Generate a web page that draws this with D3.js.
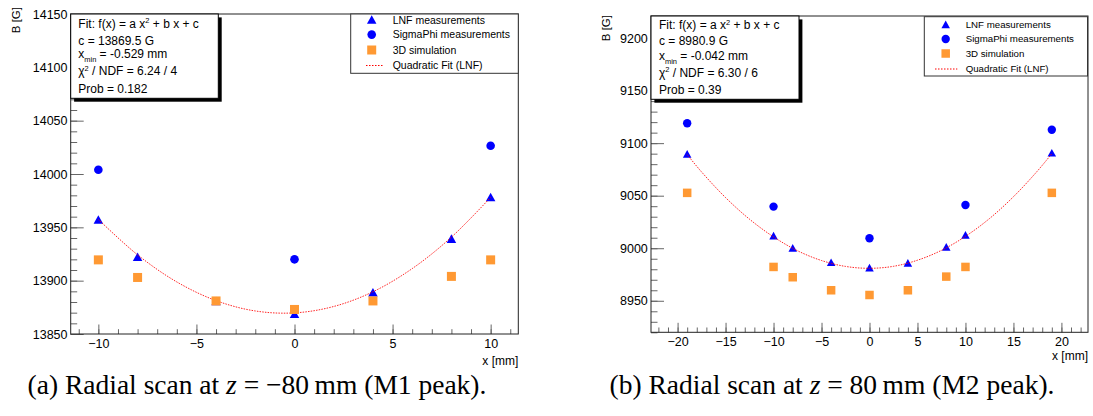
<!DOCTYPE html>
<html><head><meta charset="utf-8">
<script src="https://cdn.jsdelivr.net/npm/d3@7"></script>
<style>body{margin:0;background:#fff}svg{display:block}</style>
</head><body><svg id="c" width="1093" height="416"></svg>
<script>
// ---------- data: panel (a) z = -80 mm ----------
const aX = [-10, -8, -4, 0, 4, 8, 10];
const aLNF = [13957, 13922, 13880.5, 13868.5, 13888.7, 13939, 13978];
const aSigmaX = [-10, 0, 10];
const aSigma = [14004, 13920, 14026.5];
const aSim = [13919.5, 13903, 13881, 13873, 13881, 13904, 13919.5];
const aFitX = [-10, -8, -6, -4, -2, 0, 2, 4, 6, 8, 10];
const aFitY = [13957.4, 13924.2, 13898.8, 13881.3, 13871.6, 13869.8, 13875.8, 13889.6, 13911.3, 13940.8, 13978.1];
const aXTicks = [-10, -5, 0, 5, 10];
const aYTicks = [13850, 13900, 13950, 14000, 14050, 14100, 14150];
const aStats = ["Fit: f(x) = a x^{2} + b x + c", "c = 13869.5 G", "x_{min} = -0.529 mm", "χ^{2} / NDF = 6.24 / 4", "Prob = 0.182"];

// ---------- data: panel (b) z = +80 mm ----------
const bX = [-19, -10, -8, -4, 0, 4, 8, 10, 19];
const bLNF = [9089.5, 9011.7, 9000, 8986.3, 8981.2, 8985.7, 9001, 9012.4, 9090.5];
const bSigmaX = [-19, -10, 0, 10, 19];
const bSigma = [9119, 9039.6, 9009.5, 9041.2, 9112.7];
const bSim = [9052.7, 8982.2, 8972.4, 8960, 8955.5, 8960, 8973, 8982.2, 9052.7];
const bFitX = [-19, -17.5, -15, -12.5, -10, -7.5, -5, -2.5, 0, 2.5, 5, 7.5, 10, 12.5, 15, 17.5, 19];
const bFitY = [9089.1, 9072.6, 9048.2, 9027.6, 9010.8, 8997.6, 8988.3, 8982.7, 8980.9, 8982.8, 8988.6, 8998.0, 9011.3, 9028.2, 9049.0, 9073.5, 9090.0];
const bXTicks = [-20, -15, -10, -5, 0, 5, 10, 15, 20];
const bYTicks = [8950, 9000, 9050, 9100, 9150, 9200];
const bStats = ["Fit: f(x) = a x^{2} + b x + c", "c = 8980.9 G", "x_{min} = -0.042 mm", "χ^{2} / NDF = 6.30 / 6", "Prob = 0.39"];

const legendLabels = ["LNF measurements", "SigmaPhi measurements", "3D simulation", "Quadratic Fit (LNF)"];
const captions = [
  [["(a) Radial scan at "], ["z", "i"], [" = −80\u2009mm (M1 peak)."]],
  [["(b) Radial scan at "], ["z", "i"], [" = 80\u2009mm (M2 peak)."]]
];

const BLUE = "#0000ff", ORANGE = "#ff9933", RED = "#ff0000";
const SANS = "'Liberation Sans', Arial, Helvetica, sans-serif";
const svg = d3.select("#c");

function triPath(cx, cy, s) {
  const h = s * 0.9;
  return `M${cx},${cy - h * 0.55}L${cx + s / 2},${cy + h * 0.45}L${cx - s / 2},${cy + h * 0.45}Z`;
}

function richText(sel, str, size) {
  const parts = str.split(/(\^\{[^}]*\}|_\{[^}]*\})/).filter(p => p.length);
  let shift = 0;
  parts.forEach(p => {
    let t = p, dy = 0, fs = size;
    if (p.startsWith("^{")) { t = p.slice(2, -1); dy = -size * 0.38; fs = size * 0.62; }
    else if (p.startsWith("_{")) { t = p.slice(2, -1); dy = size * 0.28; fs = size * 0.62; }
    sel.append("tspan").attr("dy", dy - shift).attr("font-size", fs).text(t);
    shift = dy;
  });
}

function panel(c) {
  const g = svg.append("g");
  const x = d3.scaleLinear().domain(c.xDom).range([c.left, c.right]);
  const y = d3.scaleLinear().domain(c.yDom).range([c.bottom, c.top]);

  // axes
  const minorX = d3.range(Math.ceil(c.xDom[0]), Math.floor(c.xDom[1]) + 1, 1);
  const minorY = d3.range(Math.ceil(c.yDom[0] / 10) * 10, c.yDom[1] + 0.001, 10);
  const styleAxis = s => {
    s.select(".domain").remove();
    s.selectAll(".tick line").attr("stroke", "#666").attr("stroke-width", 1);
    s.attr("font-family", SANS).attr("font-size", c.tickFs);
    s.selectAll(".tick text").attr("fill", "#000");
  };
  g.append("g").attr("transform", `translate(0,${c.bottom})`)
    .call(d3.axisBottom(x).tickValues(minorX).tickSize(-c.xMinor).tickFormat("")).call(styleAxis);
  g.append("g").attr("transform", `translate(0,${c.bottom})`)
    .call(d3.axisBottom(x).tickValues(c.xTicks).tickSize(-c.xMajor).tickPadding(5.2).tickFormat(d3.format("d"))).call(styleAxis);
  g.append("g").attr("transform", `translate(${c.left},0)`)
    .call(d3.axisLeft(y).tickValues(minorY).tickSize(-c.yMinor).tickFormat("")).call(styleAxis);
  g.append("g").attr("transform", `translate(${c.left},0)`)
    .call(d3.axisLeft(y).tickValues(c.yTicks).tickSize(-c.yMajor).tickPadding(3.2).tickFormat(d3.format("d"))).call(styleAxis);

  // frame
  g.append("rect").attr("x", c.left).attr("y", c.top).attr("width", c.right - c.left).attr("height", c.bottom - c.top)
    .attr("fill", "none").attr("stroke", "#222").attr("stroke-width", 1);

  // axis titles
  g.append("text").attr("x", c.right).attr("y", c.xTitleY).attr("text-anchor", "end")
    .attr("font-family", SANS).attr("font-size", 12).text("x [mm]");
  g.append("text").attr("transform", `translate(${c.yTitleX},${c.yTitleTop}) rotate(-90)`).attr("text-anchor", "end")
    .attr("font-family", SANS).attr("font-size", 11.5).text("B [G]");

  // fit (LNF)
  const line = d3.line().x((d, i) => x(c.fitX[i])).y(d => y(d)).curve(d3.curveCatmullRom);
  // LNF triangles
  g.append("g").selectAll("path").data(c.lnf).join("path")
    .attr("d", (d, i) => triPath(x(c.xs[i]), y(d), c.triS)).attr("fill", BLUE);
  g.append("path").datum(c.fitY).attr("d", line).attr("fill", "none").attr("stroke", RED)
    .attr("stroke-width", 1).attr("stroke-dasharray", "1.5,1.2").attr("opacity", 0.85);
  // SigmaPhi circles
  g.append("g").selectAll("circle").data(c.sigma).join("circle")
    .attr("cx", (d, i) => x(c.sigmaX[i])).attr("cy", d => y(d)).attr("r", c.circR).attr("fill", BLUE);
  // 3D simulation squares
  g.append("g").selectAll("rect").data(c.sim).join("rect")
    .attr("x", (d, i) => x(c.xs[i]) - c.sqS / 2).attr("y", d => y(d) - c.sqS / 2)
    .attr("width", c.sqS).attr("height", c.sqS).attr("fill", ORANGE);

  // stats box with shadow
  const sb = c.stats;
  g.append("rect").attr("x", sb.x + 3.4).attr("y", sb.y + 3.4).attr("width", sb.w).attr("height", sb.h).attr("fill", "#000");
  g.append("rect").attr("x", sb.x).attr("y", sb.y).attr("width", sb.w).attr("height", sb.h)
    .attr("fill", "#fff").attr("stroke", "#000").attr("stroke-width", 1);
  c.statsText.forEach((s, i) => {
    const t = g.append("text").attr("x", sb.tx).attr("y", sb.base[i]).attr("font-family", SANS).attr("font-size", 12);
    richText(t, s, 12);
  });

  // legend
  const L = c.legend;
  g.append("rect").attr("x", L.x).attr("y", L.y).attr("width", L.w).attr("height", L.h)
    .attr("fill", "#fff").attr("stroke", "#333").attr("stroke-width", 1);
  legendLabels.forEach((lab, i) => {
    const cy = L.cy[i];
    g.append("text").attr("x", L.tx).attr("y", cy + L.fs * 0.36).attr("font-family", SANS)
      .attr("font-size", L.fs).text(lab);
    if (i === 0) g.append("path").attr("d", triPath(L.mx, cy, c.triS)).attr("fill", BLUE);
    if (i === 1) g.append("circle").attr("cx", L.mx).attr("cy", cy).attr("r", c.circR).attr("fill", BLUE);
    if (i === 2) g.append("rect").attr("x", L.mx - c.sqS / 2).attr("y", cy - c.sqS / 2).attr("width", c.sqS).attr("height", c.sqS).attr("fill", ORANGE);
    if (i === 3) g.append("line").attr("x1", L.l1).attr("x2", L.l2).attr("y1", cy).attr("y2", cy)
      .attr("stroke", RED).attr("stroke-width", 1).attr("stroke-dasharray", "1.5,1.5");
  });

  // caption
  const cap = g.append("text").attr("x", c.capX).attr("y", c.capY).attr("text-anchor", "middle")
    .attr("font-family", "'Liberation Serif', 'Times New Roman', serif").attr("font-size", 27.5);
  c.caption.forEach(seg => cap.append("tspan").attr("font-style", seg[1] === "i" ? "italic" : "normal").text(seg[0]));
}

panel({
  xDom: [-11.41, 11.41], yDom: [13850, 14150], left: 70.7, right: 518.3, top: 14, bottom: 334,
  xTicks: aXTicks, yTicks: aYTicks, xs: aX, lnf: aLNF, sigmaX: aSigmaX, sigma: aSigma, sim: aSim,
  fitX: aFitX, fitY: aFitY, statsText: aStats, caption: captions[0],
  tickFs: 12.5, xMajor: 9.5, xMinor: 4.8, yMajor: 13, yMinor: 6.5,
  xTitleY: 365, yTitleX: 19.5, yTitleTop: 7, triS: 9.5, circR: 4.3, sqS: 9,
  stats: { x: 70.7, y: 14, w: 147.6, h: 84.3, tx: 78.3, base: [28, 44.6, 58.3, 75.3, 93.3] },
  legend: { x: 350.7, y: 14, w: 167.6, h: 59.3, cy: [20, 34.6, 50, 65.5], fs: 10.5, mx: 371.7, tx: 392.7, l1: 366, l2: 384 },
  capX: 257, capY: 394
});

panel({
  xDom: [-22.77, 22.77], yDom: [8920, 9221], left: 651, right: 1088, top: 16, bottom: 332.3,
  xTicks: bXTicks, yTicks: bYTicks, xs: bX, lnf: bLNF, sigmaX: bSigmaX, sigma: bSigma, sim: bSim,
  fitX: bFitX, fitY: bFitY, statsText: bStats, caption: captions[1],
  tickFs: 12.5, xMajor: 9.5, xMinor: 4.8, yMajor: 13, yMinor: 6.5,
  xTitleY: 360, yTitleX: 609.5, yTitleTop: 15, triS: 8.5, circR: 4.2, sqS: 8.5,
  stats: { x: 651, y: 16, w: 148, h: 83.3, tx: 659, base: [29.3, 45.3, 60.3, 77, 94.3] },
  legend: { x: 924.3, y: 16.7, w: 163.2, h: 59.3, cy: [24.7, 39, 53.5, 69], fs: 9.7, mx: 945.7, tx: 965.7, l1: 935, l2: 957.3 },
  capX: 832, capY: 394
});
</script></body></html>
